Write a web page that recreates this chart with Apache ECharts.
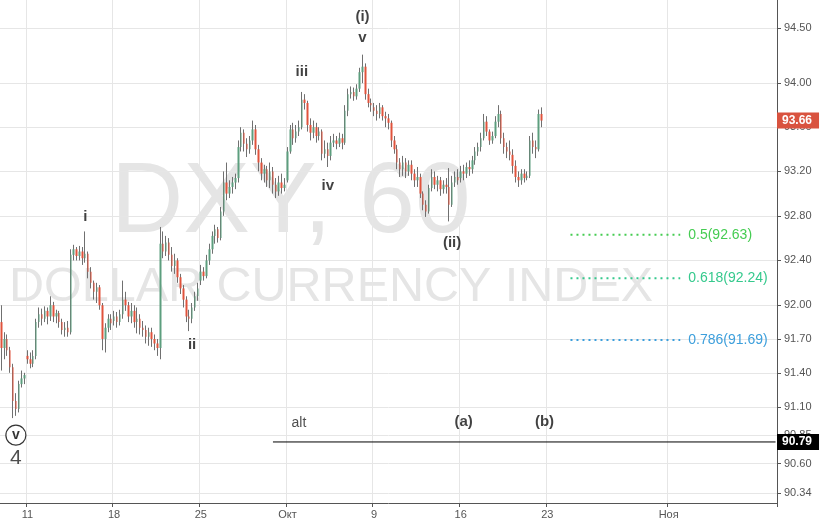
<!DOCTYPE html>
<html><head><meta charset="utf-8">
<script src="https://cdn.jsdelivr.net/npm/echarts@6.0.0/dist/echarts.min.js"></script>
<style>html,body{margin:0;padding:0;background:#fff}#c{width:820px;height:520px}</style>
</head><body><div id="c"></div>
<script>
// ---------- data ----------
const tradingDays = ['2017-09-07','2017-09-08',
 '2017-09-11','2017-09-12','2017-09-13','2017-09-14','2017-09-15',
 '2017-09-18','2017-09-19','2017-09-20','2017-09-21','2017-09-22',
 '2017-09-25','2017-09-26','2017-09-27','2017-09-28','2017-09-29',
 '2017-10-02','2017-10-03','2017-10-04','2017-10-05','2017-10-06',
 '2017-10-09','2017-10-10','2017-10-11','2017-10-12','2017-10-13',
 '2017-10-16','2017-10-17','2017-10-18','2017-10-19','2017-10-20',
 '2017-10-23','2017-10-24','2017-10-25','2017-10-26','2017-10-27',
 '2017-10-30','2017-10-31','2017-11-01','2017-11-02','2017-11-03',
 '2017-11-06','2017-11-07','2017-11-08','2017-11-09','2017-11-10'];
const slotHours = ['00:00','04:00','08:00','12:00','16:00','20:00'];
const dayLabels = {'2017-09-11':'11','2017-09-18':'18','2017-09-25':'25','2017-10-02':'Окт',
 '2017-10-09':'9','2017-10-16':'16','2017-10-23':'23','2017-11-01':'Ноя'};

// [open, close, low, high]
const candles = [
[91.85,91.62,91.42,92.00],[91.62,91.70,91.52,91.76],[91.70,91.60,91.55,91.74],[91.60,91.45,91.40,91.63],
[91.45,91.15,91.00,91.48],[91.15,91.08,91.02,91.22],[91.08,91.30,91.05,91.33],[91.30,91.35,91.27,91.42],
[91.35,91.38,91.30,91.40],[91.55,91.52,91.48,91.60],[91.52,91.48,91.44,91.58],[91.48,91.55,91.45,91.60],
[91.55,91.85,91.52,91.88],[91.85,91.92,91.80,91.98],[91.92,91.88,91.82,91.97],[91.88,91.95,91.85,91.99],
[91.95,91.90,91.83,91.98],[91.90,92.00,91.86,92.08],[92.00,91.90,91.85,92.03],[91.90,91.93,91.84,91.96],
[91.93,91.85,91.80,91.95],[91.85,91.78,91.74,91.88],[91.78,91.80,91.72,91.85],[91.80,91.76,91.72,91.86],
[91.76,92.45,91.74,92.50],[92.45,92.50,92.40,92.54],[92.50,92.44,92.40,92.52],[92.44,92.48,92.40,92.53],
[92.48,92.42,92.36,92.52],[92.42,92.46,92.38,92.66],[92.46,92.30,92.24,92.48],[92.30,92.20,92.15,92.34],
[92.20,92.12,92.05,92.22],[92.12,92.16,92.02,92.20],[92.16,92.00,91.96,92.18],[92.00,91.70,91.60,92.02],
[91.70,91.80,91.58,91.84],[91.80,91.88,91.76,91.92],[91.88,91.84,91.78,91.92],[91.86,91.90,91.82,91.95],
[91.90,91.85,91.80,91.94],[91.85,91.92,91.82,91.96],[91.92,92.05,91.88,92.22],[92.05,92.00,91.95,92.12],
[92.00,91.90,91.85,92.03],[91.90,91.95,91.84,92.02],[91.95,91.85,91.80,92.00],[91.85,91.88,91.75,91.98],
[91.88,91.80,91.74,91.92],[91.80,91.78,91.72,91.86],[91.78,91.72,91.66,91.82],[91.72,91.76,91.64,91.80],
[91.76,91.70,91.63,91.80],[91.70,91.66,91.60,91.74],[91.66,91.62,91.55,91.70],[91.62,92.55,91.52,92.70],
[92.55,92.48,92.42,92.66],[92.48,92.56,92.44,92.62],[92.56,92.45,92.40,92.60],[92.45,92.35,92.30,92.52],
[92.35,92.40,92.28,92.46],[92.40,92.25,92.20,92.42],[92.25,92.15,92.10,92.28],[92.15,92.05,91.98,92.18],
[92.05,91.90,91.85,92.08],[91.90,91.88,91.77,91.96],[91.88,91.98,91.84,92.02],[91.98,92.08,91.95,92.12],
[92.08,92.15,92.04,92.20],[92.22,92.30,92.18,92.36],[92.30,92.26,92.22,92.34],[92.26,92.40,92.24,92.45],
[92.40,92.50,92.36,92.55],[92.50,92.62,92.46,92.66],[92.62,92.68,92.55,92.72],[92.68,92.60,92.56,92.70],
[92.60,92.84,92.58,92.88],[92.84,93.10,92.80,93.20],[93.10,93.00,92.94,93.28],[93.00,93.06,92.96,93.12],
[93.06,93.10,93.00,93.15],[93.10,93.14,93.04,93.18],[93.14,93.42,93.10,93.48],[93.42,93.55,93.38,93.60],
[93.55,93.45,93.38,93.58],[93.45,93.40,93.33,93.50],[93.40,93.48,93.36,93.52],[93.48,93.58,93.44,93.66],
[93.58,93.40,93.35,93.62],[93.40,93.28,93.20,93.44],[93.28,93.18,93.12,93.32],[93.18,93.22,93.10,93.26],
[93.22,93.12,93.06,93.25],[93.12,93.20,93.05,93.28],[93.20,93.08,93.00,93.24],[93.08,93.02,92.96,93.14],
[93.02,93.10,92.98,93.16],[93.10,93.05,93.00,93.18],[93.05,93.08,93.02,93.14],[93.12,93.38,93.10,93.42],
[93.38,93.58,93.36,93.62],[93.58,93.50,93.44,93.64],[93.50,93.56,93.46,93.62],[93.56,93.60,93.52,93.66],
[93.60,93.85,93.58,93.92],[93.85,93.82,93.76,93.90],[93.82,93.62,93.56,93.84],[93.62,93.55,93.48,93.68],
[93.55,93.60,93.50,93.66],[93.60,93.52,93.46,93.64],[93.52,93.56,93.48,93.60],[93.56,93.36,93.30,93.58],
[93.36,93.40,93.32,93.48],[93.40,93.34,93.24,93.46],[93.34,93.46,93.30,93.52],[93.46,93.48,93.42,93.54],
[93.48,93.45,93.40,93.52],[93.45,93.50,93.42,93.55],[93.50,93.46,93.40,93.54],[93.46,93.75,93.44,93.80],
[93.75,93.90,93.70,93.95],[93.90,93.92,93.86,93.97],[93.92,93.88,93.84,93.96],[93.88,93.95,93.85,93.99],
[93.95,94.10,93.92,94.14],[94.10,94.15,94.00,94.26],[94.15,93.90,93.85,94.18],[93.90,93.82,93.78,93.95],
[93.82,93.80,93.74,93.86],[93.78,93.75,93.70,93.82],[93.75,93.72,93.66,93.80],[93.72,93.78,93.68,93.82],
[93.78,93.70,93.66,93.80],[93.70,93.68,93.60,93.74],[93.68,93.64,93.58,93.72],[93.64,93.48,93.42,93.66],
[93.48,93.40,93.36,93.52],[93.40,93.28,93.22,93.44],[93.28,93.22,93.15,93.32],[93.22,93.28,93.16,93.34],
[93.28,93.20,93.14,93.32],[93.20,93.26,93.16,93.30],[93.26,93.18,93.12,93.30],[93.18,93.12,93.06,93.22],
[93.12,93.15,93.06,93.24],[93.15,93.00,92.96,93.18],[93.00,92.90,92.85,93.02],[92.90,92.84,92.79,92.94],
[92.84,93.05,92.82,93.08],[93.05,93.15,93.02,93.22],[93.15,93.08,93.04,93.20],[93.08,93.12,93.02,93.16],
[93.12,93.04,92.98,93.15],[93.04,93.08,93.00,93.12],[93.08,93.06,93.00,93.14],[93.06,92.90,92.75,93.23],
[92.90,93.10,92.88,93.16],[93.10,93.15,93.06,93.20],[93.15,93.12,93.08,93.22],[93.14,93.20,93.10,93.25],
[93.20,93.18,93.12,93.26],[93.18,93.24,93.14,93.28],[93.24,93.22,93.16,93.30],[93.22,93.30,93.18,93.34],
[93.30,93.38,93.26,93.42],[93.38,93.42,93.34,93.46],[93.42,93.50,93.38,93.55],[93.50,93.65,93.48,93.72],
[93.65,93.56,93.52,93.70],[93.56,93.48,93.44,93.58],[93.48,93.52,93.45,93.56],[93.52,93.65,93.50,93.70],
[93.65,93.72,93.60,93.80],[93.72,93.50,93.45,93.75],[93.50,93.42,93.36,93.55],[93.42,93.38,93.32,93.46],
[93.38,93.35,93.30,93.48],[93.35,93.25,93.18,93.40],[93.25,93.15,93.10,93.30],[93.15,93.12,93.06,93.20],
[93.12,93.18,93.08,93.22],[93.18,93.14,93.10,93.22],[93.14,93.16,93.12,93.20],[93.16,93.48,93.14,93.52],
[93.48,93.42,93.36,93.55],[93.42,93.40,93.32,93.48],[93.40,93.72,93.38,93.76],[93.72,93.66,93.60,93.78]
];

const yTicks = [90.34, 90.60, 90.85, 91.10, 91.40, 91.70, 92.00, 92.40, 92.80, 93.20, 93.60, 94.00, 94.50];
const fibLevels = ['0.5', '0.618', '0.786'];
const fibPrices = [92.63, 92.24, 91.69];
const altLevel = 90.79;
// wave annotations: text, candle slot index, price
const waveText  = ['i', 'ii', 'iii', 'iv', 'v', '(i)', '(ii)', '(a)', '(b)'];
const waveSlot  = [29, 66, 104, 113, 125, 125, 156, 160, 188];
const wavePrice = [92.79, 91.65, 94.10, 93.07, 94.41, 94.61, 92.56, 90.97, 90.97];

// ---------- layout / style ----------
const FONT = '"Liberation Sans", Arial, sans-serif';
const firstSlot = 3, slotCount = 269;
const fibStartSlot = 197, fibEndSlot = 235, altStartSlot = 94;
const fibColors = ['#45cc52', '#35c98d', '#3d9fdc'];

const allSlots = [];
tradingDays.forEach(d => slotHours.forEach(h => allSlots.push(d + ' ' + h)));
const categories = allSlots.slice(firstSlot, firstSlot + slotCount);
const isMark = (i, v) => v.endsWith(' 00:00') && dayLabels[v.slice(0, 10)] !== undefined;
const lastClose = candles[candles.length - 1][1];

const bodies = candles.map(r => [r[0], r[1], Math.min(r[0], r[1]), Math.max(r[0], r[1])]);

const chart = echarts.init(document.getElementById('c'), null, {renderer: 'canvas'});

const fibSeries = fibPrices.map((p, k) => ({
  type: 'line', symbol: 'none', silent: true, z: 3,
  data: [[categories[fibStartSlot], p], [categories[fibEndSlot], p]],
  lineStyle: {color: fibColors[k], width: 2, type: [2, 4]},
  endLabel: {show: true, formatter: fibLevels[k] + '(' + p.toFixed(2) + ')', color: fibColors[k],
    fontSize: 14, fontFamily: FONT, distance: 8}
}));

const waveData = waveText.map((t, k) => ({
  value: [categories[waveSlot[k]], wavePrice[k]],
  label: {formatter: t}
}));

const tag = (v, bg) => ({
  yAxis: v,
  lineStyle: {color: 'rgba(0,0,0,0)', width: 0},
  label: {show: true, position: 'end', distance: 0, formatter: v.toFixed(2), color: '#fff',
    backgroundColor: bg, padding: [2, 7, 2, 5], fontSize: 12, fontWeight: 'bold', fontFamily: FONT}
});

chart.setOption({
  animation: false,
  backgroundColor: '#ffffff',
  grid: {left: 0, right: 43, top: 0, bottom: 17},
  graphic: [
    {type: 'text', z: -10, x: 111, y: 154, style: {text: 'DXY, 60', font: '100px ' + FONT, fill: '#e5e5e5'}},
    {type: 'text', z: -10, x: 9, y: 263, style: {text: 'DOLLAR CURRENCY INDEX', font: '48.5px ' + FONT, fill: '#e5e5e5'}}
  ],
  xAxis: {
    type: 'category', data: categories, boundaryGap: true,
    axisLine: {show: true, lineStyle: {color: '#555', width: 1}},
    axisTick: {show: true, interval: isMark, length: 4, lineStyle: {color: '#555'}},
    axisLabel: {interval: isMark, formatter: v => dayLabels[v.slice(0, 10)], color: '#555', fontSize: 11, fontFamily: FONT, margin: 6},
    splitLine: {show: true, interval: isMark, lineStyle: {color: '#e6e6e6', width: 1}}
  },
  yAxis: {
    type: 'log', logBase: 10, position: 'right', min: 90.255, max: 94.76, scale: true,
    axisLine: {show: true, lineStyle: {color: '#555', width: 1}},
    axisTick: {show: true, length: 4, customValues: yTicks, lineStyle: {color: '#555'}},
    axisLabel: {customValues: yTicks, formatter: v => Number(v).toFixed(2), color: '#555', fontSize: 11, fontFamily: FONT, margin: 7},
    splitLine: {show: true, lineStyle: {color: '#e6e6e6', width: 1}}
  },
  series: [
    {
      type: 'candlestick', name: 'wick', data: candles, barWidth: 1, z: 4, silent: true,
      itemStyle: {color: '#707070', color0: '#707070', borderColor: '#707070', borderColor0: '#707070', borderWidth: 1}
    },
    {
      type: 'candlestick', name: 'body', data: bodies, barWidth: 2, z: 5, silent: true,
      itemStyle: {color: '#5d9e7e', color0: '#e0533c', borderColor: '#5d9e7e', borderColor0: '#e0533c', borderWidth: 0}
    },
    {
      type: 'line', symbol: 'none', silent: true, z: 3,
      data: [[categories[altStartSlot], altLevel], [categories[slotCount - 1], altLevel]],
      lineStyle: {color: '#000', width: 1},
      markLine: {
        symbol: 'none', silent: true, animation: false, z: 20,
        data: [tag(lastClose, '#d9533f'), tag(altLevel, '#000')]
      }
    },
    ...fibSeries,
    {
      type: 'scatter', symbolSize: 0, silent: true, z: 6, data: waveData,
      label: {show: true, position: 'inside', color: '#111', fontSize: 15, fontWeight: 'bold', fontFamily: FONT}
    },
    {
      type: 'scatter', symbolSize: 0, silent: true, z: 6,
      data: [{value: [categories[103], 90.96], label: {formatter: 'alt'}}],
      label: {show: true, position: 'inside', color: '#222', fontSize: 14, fontFamily: FONT}
    },
    {
      type: 'scatter', symbol: 'circle', symbolSize: 20, silent: true, z: 6,
      data: [[categories[5], 90.85]],
      itemStyle: {color: '#fff', borderColor: '#000', borderWidth: 1.2},
      label: {show: true, position: 'inside', formatter: 'v', color: '#000', fontSize: 14, fontWeight: 'bold', fontFamily: FONT}
    },
    {
      type: 'scatter', symbolSize: 0, silent: true, z: 6,
      data: [[categories[5], 90.65]],
      label: {show: true, position: 'inside', formatter: '4', color: '#222', fontSize: 21, fontFamily: FONT}
    }
  ]
});
</script>
</body></html>
